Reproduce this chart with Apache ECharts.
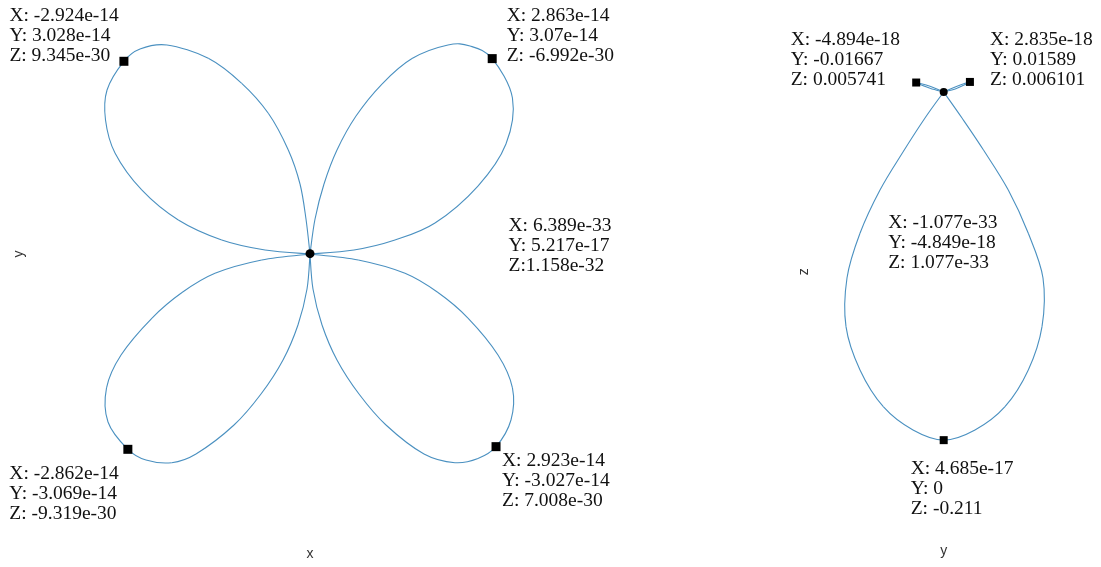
<!DOCTYPE html>
<html>
<head>
<meta charset="utf-8">
<script src="https://cdn.jsdelivr.net/npm/echarts@6/dist/echarts.min.js"></script>
<style>
  html, body { margin: 0; padding: 0; background: #fff; }
  #chart { width: 1101px; height: 567px; }
</style>
</head>
<body>
<div id="chart"></div>
<script>
// ---- x-y projection: four-petal rose (coordinates in units of 1e-14) ----
const XY_UNIT = 1e-14;
const petalNE = [[0,0],[0.079,0.550],[0.220,1.100],[0.424,1.634],[0.723,2.168],[1.131,2.671],[1.603,3.071],[2.168,3.284],[2.514,3.268],[2.863,3.07],[3.181,2.451],[3.079,1.728],[2.639,1.068],[1.964,0.487],[1.335,0.220],[0.691,0.063],[0,0]];
const petalNW = [[0,0],[-0.063,0.550],[-0.157,1.100],[-0.341,1.634],[-0.655,2.211],[-1.073,2.682],[-1.598,3.075],[-2.247,3.284],[-2.671,3.221],[-2.924,3.028],[-3.189,2.577],[-3.213,2.105],[-3.064,1.587],[-2.644,1.006],[-2.069,0.534],[-1.387,0.220],[-0.707,0.063],[0,0]];
const petalSW = [[0,0],[-0.047,-0.550],[-0.189,-1.115],[-0.424,-1.665],[-0.770,-2.200],[-1.194,-2.687],[-1.791,-3.142],[-2.173,-3.279],[-2.577,-3.237],[-2.862,-3.069],[-3.174,-2.640],[-3.197,-2.105],[-2.969,-1.587],[-2.482,-1.006],[-2.011,-0.605],[-1.493,-0.303],[-0.759,-0.094],[0,0]];
const petalSE = [[0,0],[0.047,-0.550],[0.189,-1.115],[0.424,-1.665],[0.770,-2.200],[1.194,-2.687],[1.791,-3.142],[2.278,-3.279],[2.639,-3.213],[2.923,-3.027],[3.158,-2.608],[3.181,-2.105],[2.954,-1.587],[2.482,-1.006],[2.011,-0.605],[1.493,-0.303],[0.759,-0.094],[0,0]];

// marked points on the x-y view: [X, Y, Z]
const xyPoints = [
  [-2.924e-14, 3.028e-14, 9.345e-30],
  [2.863e-14, 3.07e-14, -6.992e-30],
  [6.389e-33, 5.217e-17, 1.158e-32],
  [-2.862e-14, -3.069e-14, -9.319e-30],
  [2.923e-14, -3.027e-14, 7.008e-30]
];
const xyZSep = [' ', ' ', '', ' ', ' '];

// ---- y-z projection: teardrop with two small lobes at the top ----
const dropYZ = [[0,0],[-0.01133,-0.01576],[-0.02467,-0.03636],[-0.03861,-0.05939],[-0.05073,-0.08564],[-0.05861,-0.11273],[-0.05921,-0.14224],[-0.05073,-0.16848],[-0.03661,-0.19073],[-0.01861,-0.20485],[0,-0.211],[0.01897,-0.20485],[0.03715,-0.19073],[0.05127,-0.16848],[0.05958,-0.14224],[0.06018,-0.11273],[0.05127,-0.08564],[0.03915,-0.05939],[0.02412,-0.03515],[0.01109,-0.01576],[0,0]];
const lobeW = [[0,0],[-0.0083,0.0023],[-0.01667,0.005741],[-0.0083,0.0035],[0,0]];
const lobeE = [[0,0],[0.0081,0.0023],[0.01589,0.006101],[0.0081,0.0035],[0,0]];

// marked points on the y-z view: [X, Y, Z]
const yzPoints = [
  [-4.894e-18, -0.01667, 0.005741],
  [2.835e-18, 0.01589, 0.006101],
  [-1.077e-33, -4.849e-18, 1.077e-33],
  [4.685e-17, 0, -0.211]
];
const yzSymbols = ['rect', 'rect', 'circle', 'rect'];
const xySymbols = ['rect', 'rect', 'circle', 'rect', 'rect'];

// ---- styling ----
const LINE_COLOR = '#4a90c0';
const LABEL_FONT = { fontFamily: 'Liberation Serif', fontSize: 19.5, lineHeight: 20, color: '#111' };
const xyLabelPos = [[-110, -51], [19, -48.5], [203, -33], [-114, 19.5], [10.5, 8.5]];
const yzLabelPos = [[-121.5, -49], [24, -48.5], [-51.5, 125], [-29, 22.5]];

function pointText(p, zSep) {
  return 'X: ' + String(p[0]) + '\nY: ' + String(p[1]) + '\nZ:' + zSep + String(p[2]);
}

const hiddenAxis = {
  type: 'value',
  axisLine: { show: false },
  axisTick: { show: false },
  axisLabel: { show: false },
  splitLine: { show: false },
  nameLocation: 'middle',
  nameTextStyle: { fontFamily: 'Liberation Sans', fontSize: 14, color: '#333' }
};

// A curve drawn as a Catmull-Rom spline through its points; each data item
// renders the segment from itself to the next point, in axis coordinates.
function splineSeries(points, gi) {
  const last = points.length - 1;
  return {
    type: 'custom', xAxisIndex: gi, yAxisIndex: gi, silent: true, clip: false,
    data: points,
    renderItem: function (params, api) {
      const i = params.dataIndex;
      if (i >= last) return null;
      const P = k => api.coord(points[Math.max(0, Math.min(last, k))]);
      const p0 = P(i - 1), p1 = P(i), p2 = P(i + 1), p3 = P(i + 2);
      const t = 1 / 6;
      return {
        type: 'bezierCurve',
        shape: {
          x1: p1[0], y1: p1[1], x2: p2[0], y2: p2[1],
          cpx1: p1[0] + (p2[0] - p0[0]) * t, cpy1: p1[1] + (p2[1] - p0[1]) * t,
          cpx2: p2[0] - (p3[0] - p1[0]) * t, cpy2: p2[1] - (p3[1] - p1[1]) * t
        },
        style: { stroke: LINE_COLOR, lineWidth: 1.1, fill: null }
      };
    }
  };
}

const series = [];
[petalNE, petalNW, petalSW, petalSE].forEach(p => series.push(splineSeries(p, 0)));
[dropYZ, lobeW, lobeE].forEach(p => series.push(splineSeries(p, 1)));

series.push({
  type: 'scatter', xAxisIndex: 0, yAxisIndex: 0, silent: true, clip: false, z: 5,
  symbolSize: 9,
  itemStyle: { color: '#000', opacity: 1 },
  data: xyPoints.map((p, i) => ({
    value: [p[0] / XY_UNIT, p[1] / XY_UNIT],
    symbol: xySymbols[i],
    label: {
      show: true, position: xyLabelPos[i], align: 'left', verticalAlign: 'top',
      formatter: pointText(p, xyZSep[i]), ...LABEL_FONT
    }
  }))
});

series.push({
  type: 'scatter', xAxisIndex: 1, yAxisIndex: 1, silent: true, clip: false, z: 5,
  symbolSize: 8,
  itemStyle: { color: '#000', opacity: 1 },
  data: yzPoints.map((p, i) => ({
    value: [p[1], p[2]],
    symbol: yzSymbols[i],
    label: {
      show: true, position: yzLabelPos[i], align: 'left', verticalAlign: 'top',
      formatter: pointText(p, ' '), ...LABEL_FONT
    }
  }))
});

const chart = echarts.init(document.getElementById('chart'), null, { renderer: 'canvas' });
chart.setOption({
  animation: false,
  backgroundColor: '#fff',
  grid: [
    { left: 87.25, top: 31.25, width: 445.5, height: 445.5, containLabel: false },
    { left: 828.2, top: 17.75, width: 231, height: 508.2, containLabel: false }
  ],
  xAxis: [
    { ...hiddenAxis, gridIndex: 0, min: -3.5, max: 3.5, name: 'x', nameGap: 70 },
    { ...hiddenAxis, gridIndex: 1, min: -0.07, max: 0.07, name: 'y', nameGap: 18 }
  ],
  yAxis: [
    { ...hiddenAxis, gridIndex: 0, min: -3.5, max: 3.5, name: 'y', nameGap: 61 },
    { ...hiddenAxis, gridIndex: 1, min: -0.263, max: 0.045, name: 'z', nameGap: 17 }
  ],
  series: series
});
</script>
</body>
</html>
